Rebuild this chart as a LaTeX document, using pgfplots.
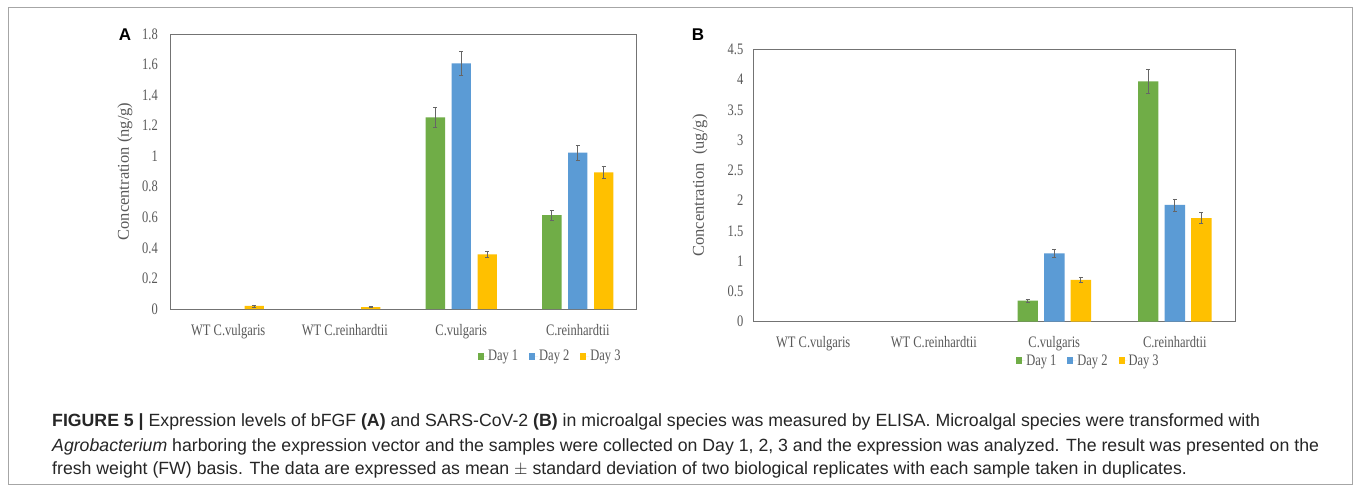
\documentclass[border=0pt]{standalone}
\usepackage{fontspec}
\setmainfont{Liberation Sans}
\newfontfamily\chartfont[FakeStretch=0.78]{Liberation Serif}
\newfontfamily\chartfontr{Liberation Serif}
\usepackage{pgfplots}
\pgfplotsset{compat=1.18}

\definecolor{dgreen}{HTML}{70AD47}
\definecolor{dblue}{HTML}{5B9BD5}
\definecolor{dyellow}{HTML}{FFC000}
\definecolor{txt}{HTML}{595959}
\definecolor{frame}{HTML}{A6A6A6}

\newcommand\cf{\chartfont\fontsize{16}{18}\selectfont}

\pgfplotsset{
  excel/.style={
    scale only axis, axis line style={draw=black!55, line width=0.7pt},
    xmin=-0.5, xmax=3.5, ymin=0, enlargelimits=false,
    xtick={0,1,2,3},
    xticklabels={WT C.vulgaris, WT C.reinhardtii, C.vulgaris, C.reinhardtii},
    major tick length=0pt,
    tick label style={font=\cf, text=txt},
    /pgf/number format/assume math mode=true,
    every x tick label/.append style={anchor=base, yshift=-26pt},
    ybar, error bars/y dir=both, error bars/y explicit,
    error bars/error bar style={draw=black!60, line width=0.6pt},
    error bars/error mark options={rotate=90, mark size=2pt, draw=black!60, line width=0.6pt},
    legend columns=3,
    legend style={draw=none, fill=none, font=\cf, text=txt, anchor=center,
      /tikz/every even column/.append style={column sep=10pt},
      nodes={inner sep=1pt}},
    legend image code/.code={\path (0pt,0pt) -- (9pt,0pt); \fill[##1] (0pt,-3.5pt) rectangle (6pt,3.5pt);},
  }
}

\begin{document}
\begin{tikzpicture}[x=1pt,y=1pt]
\path[use as bounding box, fill=white] (0pt,0pt) rectangle (1357pt,488pt);
\draw[frame, line width=1pt] (8pt,4pt) rectangle (1352pt,480pt);

\node[font=\bfseries\fontsize{17}{17}\selectfont] at (125pt,453pt) {A};
\node[font=\bfseries\fontsize{17}{17}\selectfont] at (698pt,453pt) {B};

% Panel A: bFGF
\begin{axis}[excel, at={(170pt,179pt)}, anchor=south west, width=466pt, height=275pt,
  ymax=1.8, ytick={0,0.2,0.4,0.6,0.8,1,1.2,1.4,1.6,1.8},
  every y tick label/.append style={anchor=east, inner sep=0pt, xshift=-12pt},
  bar width=0.167,
  ylabel={Concentration (ng/g)},
  every axis y label/.style={at={(axis description cs:0,0.5)}, xshift=-45pt, rotate=90, anchor=center,
    font=\chartfontr\fontsize{16.5}{18}\selectfont, text=txt},
  legend style={at={(0.815,-0.171)}}]
\addplot[fill=dgreen, draw=none, bar shift=-0.223] coordinates {
  (2,1.255) +- (0,0.065) (3,0.615) +- (0,0.032)};
\addplot[fill=dblue, draw=none, bar shift=0] coordinates {
  (2,1.608) +- (0,0.080) (3,1.023) +- (0,0.050)};
\addplot[fill=dyellow, draw=none, bar shift=0.223] coordinates {
  (0,0.020) +- (0,0.006) (1,0.012) +- (0,0.004) (2,0.358) +- (0,0.020) (3,0.895) +- (0,0.042)};
\legend{Day 1, Day 2, Day 3}
\end{axis}

% Panel B: SARS-CoV-2
\begin{axis}[excel, at={(753pt,166.3pt)}, anchor=south west, width=482pt, height=272.4pt,
  ymax=4.5, ytick={0,0.5,1,1.5,2,2.5,3,3.5,4,4.5},
  every y tick label/.append style={anchor=east, inner sep=0pt, xshift=-9.5pt},
  bar width=0.17,
  ylabel={Concentration\ \ (ug/g)},
  every axis y label/.style={at={(axis description cs:0,0.5)}, xshift=-53pt, rotate=90, anchor=center,
    font=\chartfontr\fontsize{16.5}{18}\selectfont, text=txt},
  legend style={at={(0.695,-0.144)}}]
\addplot[fill=dgreen, draw=none, bar shift=-0.22] coordinates {
  (2,0.347) +- (0,0.02) (3,3.97) +- (0,0.20)};
\addplot[fill=dblue, draw=none, bar shift=0] coordinates {
  (2,1.13) +- (0,0.065) (3,1.93) +- (0,0.10)};
\addplot[fill=dyellow, draw=none, bar shift=0.22] coordinates {
  (2,0.69) +- (0,0.04) (3,1.71) +- (0,0.09)};
\legend{Day 1, Day 2, Day 3}
\end{axis}

% caption
\begin{scope}[every node/.style={anchor=base west, font=\fontsize{17.7}{20}\selectfont, text=black!85, inner sep=0pt}]
\node at (52pt,62pt)
  {\textbf{FIGURE 5 |} Expression levels of bFGF \textbf{(A)} and SARS-CoV-2 \textbf{(B)} in microalgal species was measured by ELISA. Microalgal species were transformed with};
\node at (52pt,37pt)
  {\textit{Agrobacterium} harboring the expression vector and the samples were collected on Day 1, 2, 3 and the expression was analyzed. The result was presented on the};
\node at (52pt,14pt)
  {fresh weight (FW) basis. The data are expressed as mean $\pm$ standard deviation of two biological replicates with each sample taken in duplicates.};
\end{scope}
\end{tikzpicture}
\end{document}
